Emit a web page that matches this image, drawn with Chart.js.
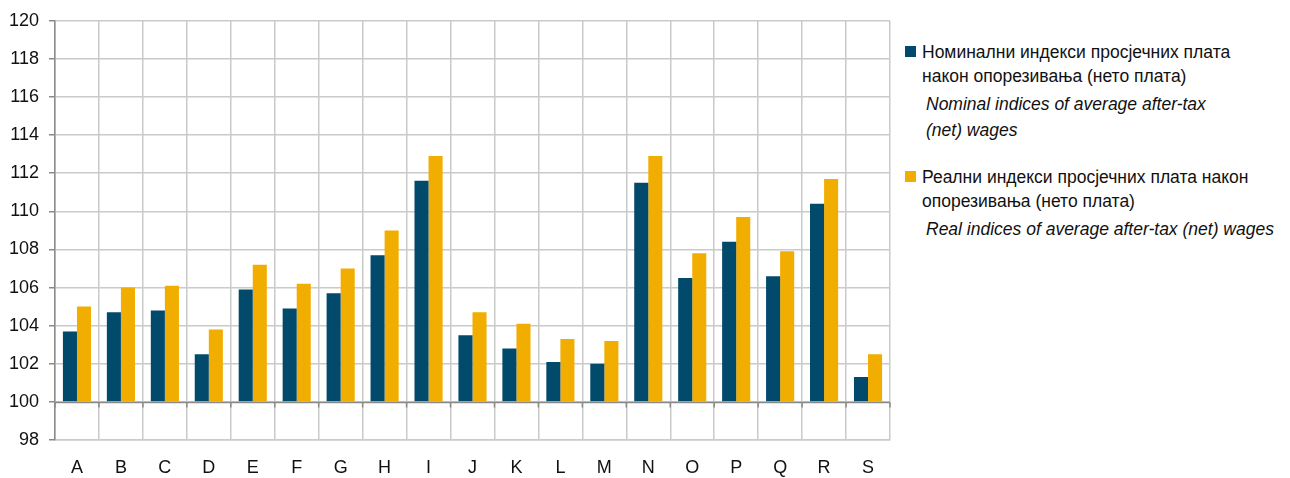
<!DOCTYPE html>
<html>
<head>
<meta charset="utf-8">
<script src="https://cdn.jsdelivr.net/npm/chart.js@4/dist/chart.umd.min.js"></script>
<style>
    body { margin: 0; background: #fff; font-family: "Liberation Sans", Arial, sans-serif; }
    #wrap { position: relative; width: 1290px; height: 478px; }
    #chartBox { position: absolute; left: 0; top: 0; width: 900px; height: 478px; }
    #legend { position: absolute; left: 905px; top: 40px; width: 385px; color: #111; font-size: 17.5px; }
    .item { position: relative; padding-left: 17px; line-height: 24px; }
    .item .box { position: absolute; left: 0; top: 6px; width: 11px; height: 11px; }
    .item .en { font-style: italic; padding-left: 4px; line-height: 26px; margin-top: 3px; }
</style>
</head>
<body>
<div id="wrap">
    <div id="chartBox"><canvas id="chart"></canvas></div>
    <div id="legend"></div>
</div>
<script>
const categories = ['A', 'B', 'C', 'D', 'E', 'F', 'G', 'H', 'I', 'J', 'K', 'L', 'M', 'N', 'O', 'P', 'Q', 'R', 'S'];
const nominal = [103.7, 104.7, 104.8, 102.5, 105.9, 104.9, 105.7, 107.7, 111.6, 103.5, 102.8, 102.1, 102.0, 111.5, 106.5, 108.4, 106.6, 110.4, 101.3];
const real = [105.0, 106.0, 106.1, 103.8, 107.2, 106.2, 107.0, 109.0, 112.9, 104.7, 104.1, 103.3, 103.2, 112.9, 107.8, 109.7, 107.9, 111.7, 102.5];
const seriesNames = [
    ['Номинални индекси просјечних плата', 'након опорезивања (нето плата)'],
    ['Реални индекси просјечних плата након', 'опорезивања (нето плата)']
];
const seriesNamesEn = [
    ['Nominal indices of average after-tax', '(net) wages'],
    ['Real indices of average after-tax (net) wages']
];
const colors = ['#024a6c', '#f2ae00'];

// Legend built as html
const legend = document.getElementById('legend');
seriesNames.forEach((name, i) => {
    const div = document.createElement('div');
    div.className = 'item';
    div.style.marginBottom = i === 0 ? '22px' : '0';
    div.innerHTML = `<span class="box" style="background:${colors[i]}"></span>
        <div>${name.join('<br>')}</div>
        <div class="en">${seriesNamesEn[i].join('<br>')}</div>`;
    legend.appendChild(div);
});

// Axis line at 100 with tick marks at category boundaries
const baseLine = {
    id: 'baseLine',
    afterDatasetsDraw(chart) {
        const { ctx, chartArea, scales } = chart;
        const y = Math.round(scales.y.getPixelForValue(100)) + 0.5;
        ctx.save();
        ctx.strokeStyle = '#8a8a8a';
        ctx.lineWidth = 1.5;
        ctx.beginPath();
        ctx.moveTo(chartArea.left, y);
        ctx.lineTo(chartArea.right, y);
        const step = (chartArea.right - chartArea.left) / categories.length;
        for (let i = 0; i <= categories.length; i++) {
            const x = chartArea.left + step * i;
            ctx.moveTo(x, y);
            ctx.lineTo(x, y + 5);
        }
        ctx.stroke();
        ctx.restore();
    }
};

new Chart(document.getElementById('chart'), {
    type: 'bar',
    data: {
        labels: categories,
        datasets: [
            { label: seriesNames[0].join(' '), data: nominal, backgroundColor: colors[0], base: 100 },
            { label: seriesNames[1].join(' '), data: real, backgroundColor: colors[1], base: 100 }
        ]
    },
    options: {
        responsive: true,
        maintainAspectRatio: false,
        animation: false,
        categoryPercentage: 0.64,
        barPercentage: 1,
        layout: { padding: { top: 14, right: 10 } },
        scales: {
            x: {
                grid: { color: '#cacaca', lineWidth: 1.5, drawTicks: false },
                border: { color: '#cacaca', width: 1.5 },
                ticks: { color: '#111', padding: 17, font: { family: 'Liberation Sans', size: 18 } },
                afterFit(scale) { scale.height = 38; }
            },
            y: {
                min: 98,
                max: 120,
                ticks: { stepSize: 2, color: '#111', padding: 10, font: { family: 'Liberation Sans', size: 18 } },
                grid: { color: '#cacaca', lineWidth: 1.5, tickLength: 6, tickColor: '#8a8a8a' },
                border: { color: '#8a8a8a', width: 1.5 },
                afterFit(scale) { scale.width = 55; }
            }
        },
        plugins: {
            legend: { display: false },
            tooltip: { enabled: false }
        }
    },
    plugins: [baseLine]
});
</script>
</body>
</html>
